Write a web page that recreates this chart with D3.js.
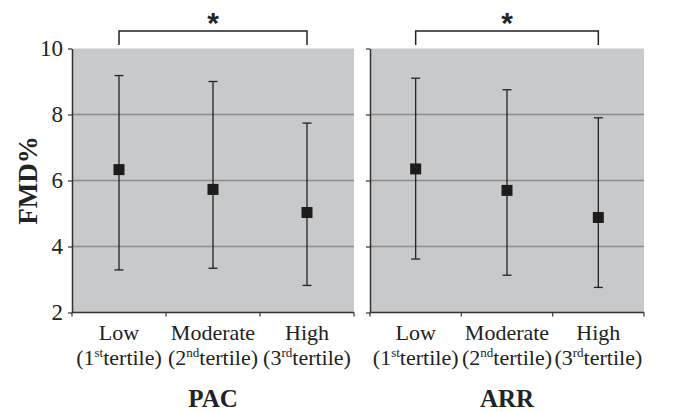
<!DOCTYPE html>
<html>
<head>
<meta charset="utf-8">
<script src="https://cdn.jsdelivr.net/npm/d3@7"></script>
<style>
  body { margin: 0; background: white; }
</style>
</head>
<body>
<div id="container"></div>
<script>
let w = 674;
let h = 412;

// data
let categories = ["Low", "Moderate", "High"];
let tertileNum = ["1", "2", "3"];
let tertileSup = ["st", "nd", "rd"];
let panelNames = ["PAC", "ARR"];
let pacMean = [6.33, 5.73, 5.03];
let pacUpper = [9.18, 9.0, 7.74];
let pacLower = [3.29, 3.34, 2.82];
let arrMean = [6.35, 5.70, 4.88];
let arrUpper = [9.10, 8.75, 7.90];
let arrLower = [3.62, 3.13, 2.76];
let yTicks = [2, 4, 6, 8, 10];

let serif = "'Liberation Serif', 'Times New Roman', serif";

let viz = d3.select("#container")
  .append("svg")
  .attr("width", w)
  .attr("height", h)
  .style("background-color", "white");

let yScale = d3.scaleLinear().domain([2, 10]).range([312.5, 48.5]);

let panels = [
  { name: panelNames[0], mean: pacMean, upper: pacUpper, lower: pacLower, x0: 72, x1: 354, labels: true },
  { name: panelNames[1], mean: arrMean, upper: arrUpper, lower: arrLower, x0: 370, x1: 644, labels: false }
];

panels.forEach(function(p) {
  let xScale = d3.scaleBand().domain(categories).range([p.x0, p.x1]).padding(0);
  let g = viz.append("g");

  // gray plot area
  g.append("rect")
    .attr("x", p.x0)
    .attr("y", yScale(10))
    .attr("width", p.x1 - p.x0)
    .attr("height", yScale(2) - yScale(10))
    .attr("fill", "#c8c9cb");

  // gridlines
  g.selectAll(".grid").data([4, 6, 8]).enter()
    .append("line")
    .attr("x1", p.x0)
    .attr("x2", p.x1)
    .attr("y1", function(d) { return yScale(d); })
    .attr("y2", function(d) { return yScale(d); })
    .attr("stroke", "#8c8c8c")
    .attr("stroke-width", 1.3);

  // y axis
  let yAxis = d3.axisLeft(yScale).tickValues(yTicks).tickSize(4).tickSizeOuter(0);
  if (!p.labels) yAxis.tickFormat("");
  let ya = g.append("g")
    .attr("transform", "translate(" + p.x0 + ",0)")
    .call(yAxis);
  ya.select(".domain").attr("stroke", "#333").attr("stroke-width", 1.5);
  ya.selectAll(".tick line").attr("stroke", "#333").attr("stroke-width", 1.2);
  ya.selectAll(".tick text")
    .attr("x", -9)
    .style("font-family", serif)
    .style("font-size", "23px")
    .attr("fill", "#222");

  // x axis with ticks at band edges
  let edges = d3.range(categories.length + 1).map(function(i) {
    return p.x0 + i * xScale.step();
  });
  g.append("line")
    .attr("x1", p.x0)
    .attr("x2", p.x1)
    .attr("y1", yScale(2))
    .attr("y2", yScale(2))
    .attr("stroke", "#333")
    .attr("stroke-width", 1.5);
  g.selectAll(".xtick").data(edges).enter()
    .append("line")
    .attr("x1", function(d) { return d; })
    .attr("x2", function(d) { return d; })
    .attr("y1", yScale(2))
    .attr("y2", yScale(2) + 4)
    .attr("stroke", "#333")
    .attr("stroke-width", 1.2);

  // error bars and markers
  let pts = categories.map(function(c, i) {
    return { cat: c, mean: p.mean[i], upper: p.upper[i], lower: p.lower[i] };
  });
  let groups = g.selectAll(".pt").data(pts).enter()
    .append("g")
    .attr("transform", function(d) {
      return "translate(" + (xScale(d.cat) + xScale.bandwidth() / 2) + ",0)";
    });
  groups.append("line")
    .attr("x1", 0).attr("x2", 0)
    .attr("y1", function(d) { return yScale(d.upper); })
    .attr("y2", function(d) { return yScale(d.lower); })
    .attr("stroke", "#222")
    .attr("stroke-width", 1.3);
  groups.append("line")
    .attr("x1", -4.5).attr("x2", 4.5)
    .attr("y1", function(d) { return yScale(d.upper); })
    .attr("y2", function(d) { return yScale(d.upper); })
    .attr("stroke", "#222")
    .attr("stroke-width", 1.3);
  groups.append("line")
    .attr("x1", -4.5).attr("x2", 4.5)
    .attr("y1", function(d) { return yScale(d.lower); })
    .attr("y2", function(d) { return yScale(d.lower); })
    .attr("stroke", "#222")
    .attr("stroke-width", 1.3);
  groups.append("rect")
    .attr("x", -5.5)
    .attr("y", function(d) { return yScale(d.mean) - 5.5; })
    .attr("width", 11)
    .attr("height", 11)
    .attr("fill", "#1c1c1c");

  // category labels
  let labels = g.selectAll(".xlab").data(categories).enter()
    .append("text")
    .attr("text-anchor", "middle")
    .style("font-family", serif)
    .style("font-size", "22px")
    .attr("fill", "#222");
  labels.append("tspan")
    .attr("x", function(d) { return xScale(d) + xScale.bandwidth() / 2; })
    .attr("y", 340)
    .text(function(d) { return d; });
  let line2 = labels.append("tspan")
    .attr("x", function(d) { return xScale(d) + xScale.bandwidth() / 2; })
    .attr("y", 365);
  line2.append("tspan").text(function(d, i) { return "(" + tertileNum[i]; });
  line2.append("tspan")
    .attr("dy", -8)
    .style("font-size", "13px")
    .text(function(d, i) { return tertileSup[i]; });
  line2.append("tspan")
    .attr("dy", 8)
    .text("tertile)");

  // panel name
  g.append("text")
    .text(p.name)
    .attr("x", (p.x0 + p.x1) / 2)
    .attr("y", 407)
    .attr("text-anchor", "middle")
    .style("font-family", serif)
    .style("font-size", "25px")
    .style("font-weight", "bold")
    .attr("fill", "#222");

  // significance bracket Low vs High
  let bx1 = xScale(categories[0]) + xScale.bandwidth() / 2;
  let bx2 = xScale(categories[2]) + xScale.bandwidth() / 2;
  g.append("path")
    .attr("d", "M" + bx1 + ",45V31H" + bx2 + "V45")
    .attr("fill", "none")
    .attr("stroke", "#222")
    .attr("stroke-width", 1.5);
  g.append("text")
    .text("*")
    .attr("x", (bx1 + bx2) / 2)
    .attr("y", 33)
    .attr("text-anchor", "middle")
    .style("font-family", "'Liberation Sans', Arial, sans-serif")
    .style("font-size", "30px")
    .style("font-weight", "bold")
    .attr("fill", "#222");
});

// y axis title
viz.append("text")
  .text("FMD%")
  .attr("transform", "translate(37," + yScale(6) + ") rotate(-90)")
  .attr("text-anchor", "middle")
  .style("font-family", serif)
  .style("font-size", "27px")
  .style("font-weight", "bold")
  .attr("fill", "#222");
</script>
</body>
</html>
